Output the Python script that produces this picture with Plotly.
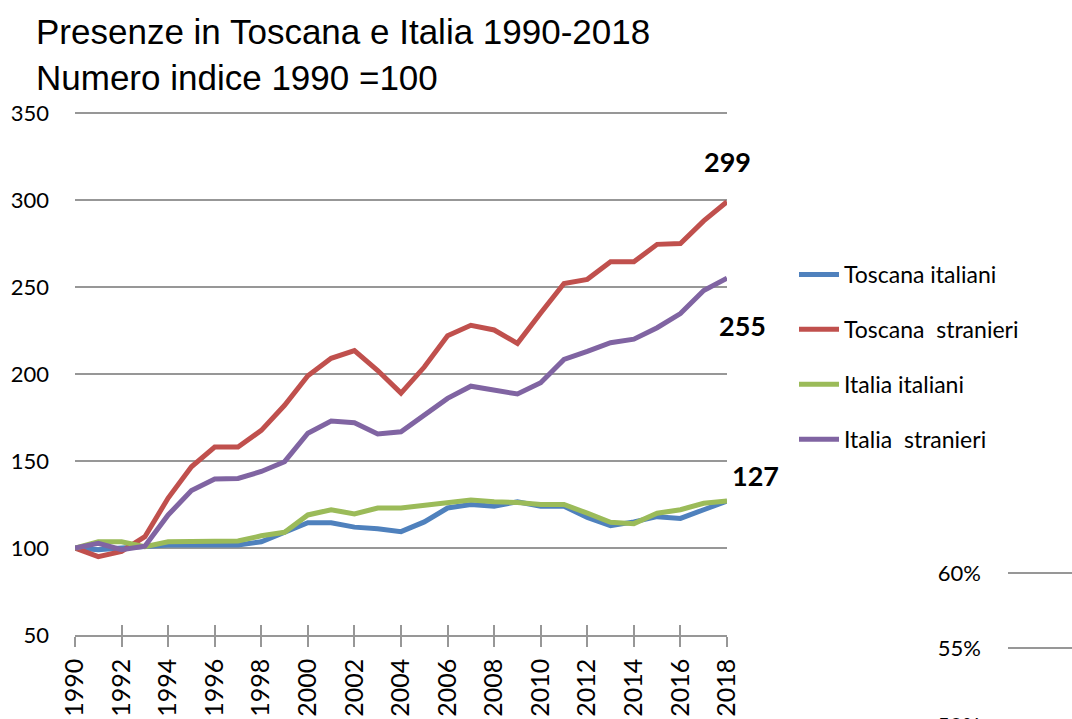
import plotly.graph_objects as go

years = list(range(1990, 2019))
toscana_italiani = [100, 99, 100, 100.8, 101.7, 101.7, 101.7, 101.7, 103.6, 109, 114.5, 114.5, 112, 111, 109.4,
                    115, 123, 125, 124, 126.6, 124, 124, 117.6, 112.8, 115, 118, 117, 122, 127]
toscana_stranieri = [100, 95, 98, 106.5, 128.7, 146.7, 158, 158, 167.6, 182, 199, 209, 213.5, 202, 189,
                     204, 222, 228, 225.3, 217.6, 235, 252, 254.4, 264.5, 264.5, 274.5, 275, 288, 299]
italia_italiani = [100, 103.6, 103.6, 100.8, 103.6, 103.6, 103.6, 104, 107, 109, 119, 122, 119.6, 123, 123,
                   124.5, 126, 127.6, 126.6, 126.2, 125, 125, 120, 114.8, 114, 120, 122, 125.7, 127]
italia_stranieri = [100, 102.7, 99, 101, 119, 133, 139.6, 140, 144, 149.6, 166, 173, 172, 165.5, 166.8,
                    176.4, 186, 193, 191, 188.5, 195, 208.4, 213, 218, 220, 226.6, 234.7, 248, 255]

series_names = ["Toscana italiani", "Toscana  stranieri", "Italia italiani", "Italia  stranieri"]
series_values = [toscana_italiani, toscana_stranieri, italia_italiani, italia_stranieri]
colors = ["#4F81BD", "#C0504D", "#9BBB59", "#8064A2"]

y_ticks = [50, 100, 150, 200, 250, 300, 350]
x_ticks = list(range(1990, 2019, 2))
pct_ticks = [0.55, 0.60]
pct_labels = ["55%", "60%"]

W, H = 1072, 719
FONT = "Lato, Carlito, Calibri, sans-serif"
GRID = "#979797"

fig = go.Figure()
for name, vals, c in zip(series_names, series_values, colors):
    fig.add_trace(go.Scatter(x=years, y=vals, name=name, mode="lines",
                             line=dict(color=c, width=5), legendgroup=name))

# empty traces for the partially visible neighbouring chart and the crossing ticks
fig.add_trace(go.Scatter(x=[], y=[], xaxis="x2", yaxis="y2", showlegend=False))
fig.add_trace(go.Scatter(x=[], y=[], xaxis="x3", yaxis="y", showlegend=False))


def px_x(p):
    return p / W


def px_y(p):
    return 1 - p / H


# main plot: y=50 at 635px, y=350 at 113px
ppu = (635 - 113) / 300.0
y_top_val = 351
y_top_px = 635 - (y_top_val - 50) * ppu

# neighbouring chart: 60% at 573px, 55% at 648px
ppp = 75 / 0.05
p_top = 0.601
p_top_px = 573 - (p_top - 0.60) * ppp
p_bot = 0.60 - (719 - 573) / ppp

fig.update_layout(
    template="none",
    width=W, height=H,
    margin=dict(l=0, r=0, t=0, b=0, autoexpand=False),
    paper_bgcolor="white", plot_bgcolor="white",
    font=dict(family=FONT, color="black"),
    xaxis=dict(domain=[px_x(75), px_x(727)], range=[1990, 2018], tickvals=x_ticks,
               tickangle=-90, tickfont=dict(size=25, family=FONT, color="black"),
               ticks="outside", ticklen=10, tickcolor=GRID, tickwidth=1.5,
               showline=True, linecolor=GRID, linewidth=1.5, showgrid=False,
               zeroline=False, anchor="y", ticklabelstandoff=2, automargin=False),
    xaxis3=dict(domain=[px_x(75), px_x(727)], range=[1990, 2018], tickvals=x_ticks,
                ticks="inside", ticklen=10, tickcolor=GRID, tickwidth=1.5,
                showticklabels=False, showgrid=False, zeroline=False, showline=False,
                overlaying="x", anchor="y", side="bottom", automargin=False),
    yaxis=dict(domain=[px_y(635), px_y(y_top_px)], range=[50, y_top_val], tickvals=y_ticks,
               tickfont=dict(size=22, family=FONT, color="black"), showgrid=True, gridcolor=GRID,
               gridwidth=1.5, zeroline=False, showline=False, ticks="",
               ticklabelstandoff=25, automargin=False),
    xaxis2=dict(domain=[px_x(1008), 1], range=[0, 1], showticklabels=False,
                showgrid=False, zeroline=False, showline=False, anchor="y2", automargin=False),
    yaxis2=dict(domain=[0, px_y(p_top_px)], range=[p_bot, p_top],
                tickvals=pct_ticks, ticktext=pct_labels,
                tickfont=dict(size=22, family=FONT, color="black"),
                showgrid=True, gridcolor=GRID, gridwidth=1.5, zeroline=False,
                showline=False, ticks="", anchor="x2", ticklabelstandoff=26, automargin=False),
    legend=dict(x=px_x(794), y=px_y(253), xanchor="left", yanchor="top",
                font=dict(size=23, family=FONT, color="black"), tracegroupgap=22,
                bgcolor="rgba(0,0,0,0)", itemwidth=40),
    showlegend=True,
)

annotations = [
    dict(xref="paper", yref="paper", x=px_x(34), y=px_y(10), xanchor="left", yanchor="top",
         align="left", showarrow=False,
         text="Presenze in Toscana e Italia 1990-2018<br>Numero indice 1990 =100",
         font=dict(family="Liberation Sans Narrow, Arial Narrow, Liberation Sans, Arial, sans-serif",
                   size=35, color="black")),
    dict(xref="paper", yref="paper", x=px_x(982), y=px_y(724), xanchor="right", yanchor="middle",
         showarrow=False, text="50%", font=dict(size=22, family=FONT, color="black")),
]
label_offsets = {1: (0, 40), 3: (15, -47), 2: (28, 26)}
for idx, (dx, dy) in label_offsets.items():
    v = series_values[idx][-1]
    annotations.append(dict(x=years[-1], y=v, xref="x", yref="y", showarrow=False,
                            text=f"<b>{round(v)}</b>", xshift=dx, yshift=dy,
                            font=dict(size=27, family=FONT, color="black")))
fig.update_layout(annotations=annotations)

fig.write_html("out.html", config={"displayModeBar": False},
               post_script="document.body.style.margin='0';document.body.style.padding='0';")
